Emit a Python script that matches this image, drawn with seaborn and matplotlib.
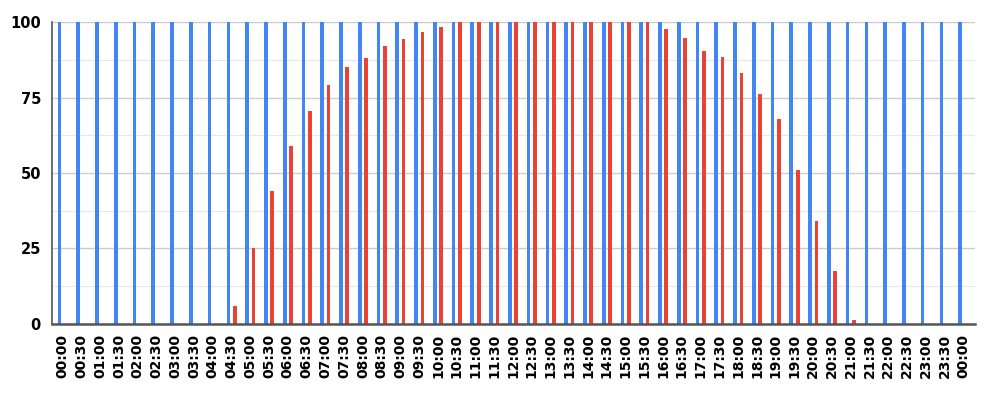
import matplotlib.pyplot as plt
import pandas as pd
import seaborn as sns
from matplotlib.ticker import MultipleLocator

# Half-hour slots across one day (the last label wraps to 00:00 again)
times = ['00:00', '00:30', '01:00', '01:30', '02:00', '02:30', '03:00', '03:30',
         '04:00', '04:30', '05:00', '05:30', '06:00', '06:30', '07:00', '07:30',
         '08:00', '08:30', '09:00', '09:30', '10:00', '10:30', '11:00', '11:30',
         '12:00', '12:30', '13:00', '13:30', '14:00', '14:30', '15:00', '15:30',
         '16:00', '16:30', '17:00', '17:30', '18:00', '18:30', '19:00', '19:30',
         '20:00', '20:30', '21:00', '21:30', '22:00', '22:30', '23:00', '23:30',
         '00:00']

blue_values = [100] * 49

red_values = [0, 0, 0, 0, 0, 0, 0, 0,
              0, 6, 25, 44, 59, 70.5, 79, 85,
              88, 92, 94.5, 96.7, 98.3, 100, 100, 100,
              100, 100, 100, 100, 100, 100, 100, 100,
              97.8, 94.6, 90.3, 88.3, 83, 76, 68, 51,
              34.2, 17.4, 1.4, 0, 0, 0, 0, 0,
              0]

series_names = ['Series 1', 'Series 2']
palette = ['#4285F4', '#EA4335']

slots = list(range(len(times)))
df = pd.DataFrame({
    'slot': slots * 2,
    'value': blue_values + red_values,
    'series': [series_names[0]] * len(times) + [series_names[1]] * len(times),
})

fig = plt.figure(figsize=(10, 4.2), dpi=100)
ax = fig.add_axes([0.052, 0.2286, 0.923, 0.719])

sns.barplot(data=df, x='slot', y='value', hue='series', palette=palette,
            width=0.68, gap=0.42, dodge=True, legend=False, ax=ax,
            saturation=1, edgecolor='none', zorder=3)

ax.set_xlim(-0.57, 48.62)
ax.set_ylim(0, 100)

# Gridlines: major every 25, lighter minor every 12.5
ax.yaxis.set_major_locator(MultipleLocator(25))
ax.yaxis.set_minor_locator(MultipleLocator(12.5))
ax.grid(axis='y', which='major', color='#cccccc', linewidth=1, zorder=0)
ax.grid(axis='y', which='minor', color='#e8e8e8', linewidth=0.8, zorder=0)
ax.grid(axis='x', visible=False)
ax.set_axisbelow(True)

ax.set_xticks(slots)
ax.set_xticklabels(times, rotation=90, fontweight='bold', fontsize=10)
ax.set_yticks([0, 25, 50, 75, 100])
ax.set_yticklabels(['0', '25', '50', '75', '100'], fontweight='bold', fontsize=10.5)
ax.tick_params(axis='both', which='both', length=0)
ax.tick_params(axis='x', pad=7)
ax.tick_params(axis='y', pad=8)

ax.set_xlabel('')
ax.set_ylabel('')

for side in ['top', 'right']:
    ax.spines[side].set_visible(False)
ax.spines['bottom'].set_color('#555555')
ax.spines['bottom'].set_linewidth(1.8)
ax.spines['left'].set_color('#555555')
ax.spines['left'].set_linewidth(1.2)
ax.spines['bottom'].set_zorder(4)

fig.savefig('out.png', dpi=100)
